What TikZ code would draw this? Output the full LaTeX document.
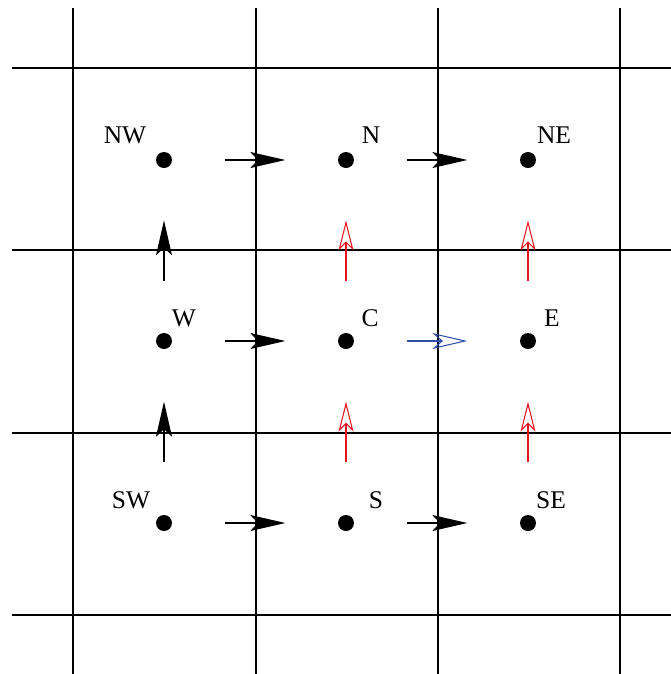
\documentclass[tikz,border=0pt]{standalone}
\usepackage{fontspec}
\setmainfont{Liberation Serif}
\usetikzlibrary{arrows.meta, calc}

\definecolor{fluxred}{RGB}{230,20,30}
\definecolor{fluxblue}{RGB}{50,80,170}

\begin{document}
\begin{tikzpicture}[x=0.02cm, y=-0.02cm,
    blackflux/.style={line width=0.7pt, -{Stealth[length=0.7cm, width=0.32cm, inset=0.15cm]}},
    redflux/.style={draw=fluxred, line width=0.6pt, -{Stealth[open, length=0.6cm, width=0.3cm, inset=0.15cm]}},
    blueflux/.style={draw=fluxblue, line width=0.6pt, -{Stealth[open, length=0.7cm, width=0.32cm, inset=0.18cm]}}]

\useasboundingbox (0,0) rectangle (671,674);

% grid
\begin{scope}[line width=1pt]
    \foreach \gx in {73,256,438,620} \draw (\gx,8) -- (\gx,674);
    \foreach \gy in {68,250,433,615} \draw (12,\gy) -- (671,\gy);
\end{scope}

% cell centres
\begin{scope}[every node/.style={circle, fill=black, inner sep=0pt, minimum size=0.32cm}]
    \node (nw) at (164, 160) {};
    \node (n)  at (346, 160) {};
    \node (ne) at (528, 160) {};

    \node (w)  at (164, 341) {};
    \node (c)  at (346, 341) {};
    \node (e)  at (528, 341) {};

    \node (sw) at (164, 523) {};
    \node (s)  at (346, 523) {};
    \node (se) at (528, 523) {};
\end{scope}

\begin{scope}[every node/.style={inner sep=0pt, font=\fontsize{14.5}{16}\selectfont}]
    \node (nwlabel) at (125, 135) {NW};
    \node (nlabel)  at (371, 135) {N};
    \node (nelabel) at (554, 135) {NE};

    \node (wlabel)  at (184, 318) {W};
    \node (clabel)  at (370, 318) {C};
    \node (elabel)  at (552, 318) {E};

    \node (swlabel) at (131, 500) {SW};
    \node (slabel)  at (376, 500) {S};
    \node (selabel) at (551, 500) {SE};
\end{scope}

% fluxes
\draw [blackflux] ($(nw)!1/3!(n)$) -- ($(nw)!2/3!(n)$);
\draw [blackflux] ($(n)!1/3!(ne)$) -- ($(n)!2/3!(ne)$);
\draw [blackflux] ($(w)!1/3!(c)$) -- ($(w)!2/3!(c)$);
\draw [blueflux]  ($(c)!1/3!(e)$) -- ($(c)!2/3!(e)$);
\draw [blackflux] ($(sw)!1/3!(s)$) -- ($(sw)!2/3!(s)$);
\draw [blackflux] ($(s)!1/3!(se)$) -- ($(s)!2/3!(se)$);

\draw [blackflux] ($(sw)!1/3!(w)$) -- ($(sw)!2/3!(w)$);
\draw [blackflux] ($(w)!1/3!(nw)$) -- ($(w)!2/3!(nw)$);
\draw [redflux]   ($(s)!1/3!(c)$) -- ($(s)!2/3!(c)$);
\draw [redflux]   ($(c)!1/3!(n)$) -- ($(c)!2/3!(n)$);
\draw [redflux]   ($(se)!1/3!(e)$) -- ($(se)!2/3!(e)$);
\draw [redflux]   ($(e)!1/3!(ne)$) -- ($(e)!2/3!(ne)$);

\end{tikzpicture}
\end{document}
